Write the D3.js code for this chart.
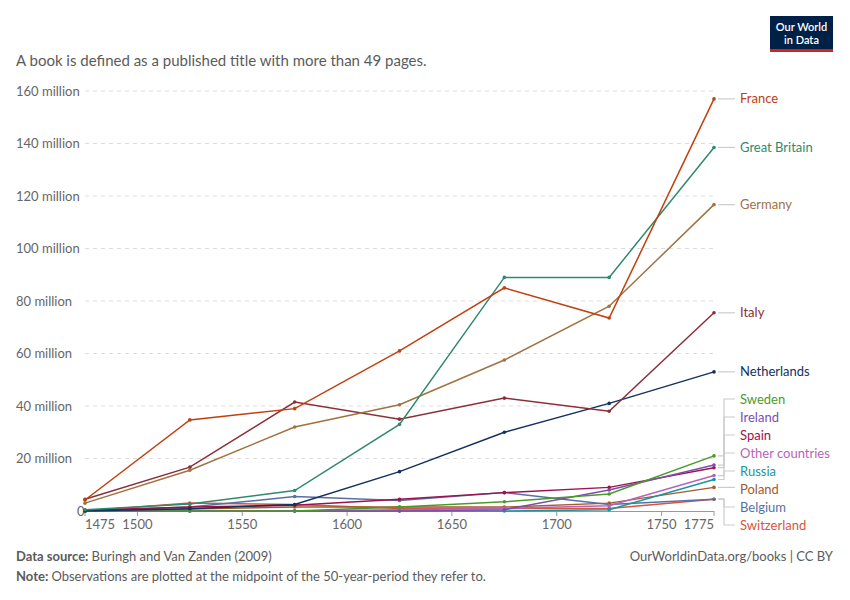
<!DOCTYPE html>
<html><head><meta charset="utf-8">
<script src="https://cdn.jsdelivr.net/npm/d3@7"></script>
<style>body{margin:0;background:#fff;font-family:Lato,sans-serif}</style>
</head><body><div id="chart"></div>
<script>
// data, millions of books, midpoint of each 50-year period
const years = [1475, 1525, 1575, 1625, 1675, 1725, 1775];
const countries = ["France","Great Britain","Germany","Italy","Netherlands","Sweden","Ireland","Spain","Other countries","Russia","Poland","Belgium","Switzerland"];
const colors = ["#c0400e","#2e8a6c","#a0723f","#8a2f3a","#13315e","#4a9a2a","#7a4fb0","#a0104e","#b664b6","#1695a3","#a35a2c","#5670a6","#d9543c"];
const france = [4.2, 34.7, 39, 61, 85, 73.5, 157];
const greatBritain = [0.5, 2.7, 7.8, 33, 89, 89, 138.5];
const germany = [3, 15.5, 32, 40.5, 57.5, 78, 116.7];
const italy = [4.5, 16.7, 41.5, 35, 43, 38, 75.5];
const netherlands = [0, 0.9, 2.5, 15, 30, 41, 53];
const sweden = [0, 0, 0, 1.5, 3.5, 6.5, 21];
const ireland = [0, 0, 0, 0, 0.5, 8, 17.5];
const spain = [0.3, 1.5, 2.2, 4.5, 7, 9, 16.5];
const other = [0, 0, 0, 0.5, 1, 2, 13.5];
const russia = [0, 0, 0, 0, 0, 0.5, 12];
const poland = [0, 0.8, 1.5, 1.5, 1.5, 3, 9];
const belgium = [0, 1.5, 5.5, 4, 7, 2.5, 4.5];
const switzerland = [0, 3, 2.5, 1, 1, 1, 4.5];
const values = [france, greatBritain, germany, italy, netherlands, sweden, ireland, spain, other, russia, poland, belgium, switzerland];
const xTicks = [1475, 1500, 1550, 1600, 1650, 1700, 1750, 1775];
const yTicks = [0, 20, 40, 60, 80, 100, 120, 140, 160];

const W = 850, H = 600;
const svg = d3.select("#chart").append("svg").attr("width", W).attr("height", H)
  .style("font-family", "Lato, sans-serif");

const x = d3.scaleLinear().domain([1475, 1775]).range([85, 714]);
const y = d3.scaleLinear().domain([0, 160]).range([511, 91]);

// logo
svg.append("rect").attr("x", 770).attr("y", 16).attr("width", 63).attr("height", 33).attr("fill", "#002147");
svg.append("rect").attr("x", 770).attr("y", 49).attr("width", 63).attr("height", 3).attr("fill", "#ce261e");
svg.append("text").attr("x", 801.5).attr("y", 31).attr("text-anchor", "middle").attr("fill", "#fff")
  .attr("font-size", 11).attr("font-weight", 600).text("Our World");
svg.append("text").attr("x", 801.5).attr("y", 44).attr("text-anchor", "middle").attr("fill", "#fff")
  .attr("font-size", 11).attr("font-weight", 600).text("in Data");

svg.append("text").attr("x", 16).attr("y", 66).attr("fill", "#5b5b5b").attr("font-size", 15)
  .text("A book is defined as a published title with more than 49 pages.");

// y grid + labels
const yg = svg.append("g");
yg.selectAll("line").data(yTicks.filter(d => d > 0)).join("line")
  .attr("x1", 85).attr("x2", 714).attr("y1", d => y(d)).attr("y2", d => y(d))
  .attr("stroke", "#ddd").attr("stroke-dasharray", "4,4");
yg.selectAll("text").data(yTicks).join("text")
  .attr("x", d => d === 0 ? 77 : 16).attr("y", d => y(d)).attr("dy", "0.35em")
  .attr("fill", "#666").attr("font-size", 13)
  .text(d => d === 0 ? "0" : d + " million");

// x axis
svg.append("line").attr("x1", 85).attr("x2", 714).attr("y1", 511.5).attr("y2", 511.5).attr("stroke", "#999");
const xg = svg.append("g");
xg.selectAll("line").data(xTicks).join("line")
  .attr("x1", d => x(d)).attr("x2", d => x(d)).attr("y1", 511).attr("y2", 516).attr("stroke", "#999");
xg.selectAll("text").data(xTicks).join("text")
  .attr("x", d => x(d)).attr("y", 529)
  .attr("text-anchor", d => d === 1475 ? "start" : d === 1775 ? "end" : "middle")
  .attr("fill", "#666").attr("font-size", 13).text(d => d);

// lines
const series = countries.map((c, i) => ({ name: c, color: colors[i], vals: values[i] }));
const line = d3.line().x((d, i) => x(years[i])).y(d => y(d));
const g = svg.append("g");
series.slice().reverse().forEach(s => {
  g.append("path").attr("d", line(s.vals)).attr("fill", "none")
    .attr("stroke", s.color).attr("stroke-width", 1.5);
  g.selectAll(null).data(s.vals).join("circle")
    .attr("cx", (d, i) => x(years[i])).attr("cy", d => y(d)).attr("r", 1.8).attr("fill", s.color);
});

// labels with simple dodge
const labs = series.map(s => ({ s, py: y(s.vals[6]), ly: y(s.vals[6]) }))
  .sort((a, b) => a.py - b.py);
const gap = 18;
for (let i = 1; i < labs.length; i++) labs[i].ly = Math.max(labs[i].ly, labs[i - 1].ly + gap);
labs[labs.length - 1].ly = Math.min(labs[labs.length - 1].ly, 525);
for (let i = labs.length - 2; i >= 0; i--) labs[i].ly = Math.min(labs[i].ly, labs[i + 1].ly - gap);

labs.forEach(l => {
  const moved = Math.abs(l.ly - l.py) > 2;
  svg.append("path")
    .attr("d", moved ? `M718,${l.py}H724V${l.ly}H735` : `M718,${l.py}H735`)
    .attr("fill", "none").attr("stroke", "#ccc").attr("stroke-width", 1.2);
  svg.append("text").attr("x", 740).attr("y", l.ly).attr("dy", "0.35em")
    .attr("fill", l.s.color).attr("font-size", 13).text(l.s.name);
});

// footer
const f1 = svg.append("text").attr("x", 16).attr("y", 561).attr("font-size", 13).attr("fill", "#5b5b5b");
f1.append("tspan").attr("font-weight", 700).text("Data source: ");
f1.append("tspan").text("Buringh and Van Zanden (2009)");
svg.append("text").attr("x", 833).attr("y", 561).attr("text-anchor", "end").attr("font-size", 13)
  .attr("fill", "#5b5b5b").text("OurWorldinData.org/books | CC BY");
const f2 = svg.append("text").attr("x", 16).attr("y", 581).attr("font-size", 13).attr("fill", "#5b5b5b");
f2.append("tspan").attr("font-weight", 700).text("Note: ");
f2.append("tspan").text("Observations are plotted at the midpoint of the 50-year-period they refer to.");
</script></body></html>
